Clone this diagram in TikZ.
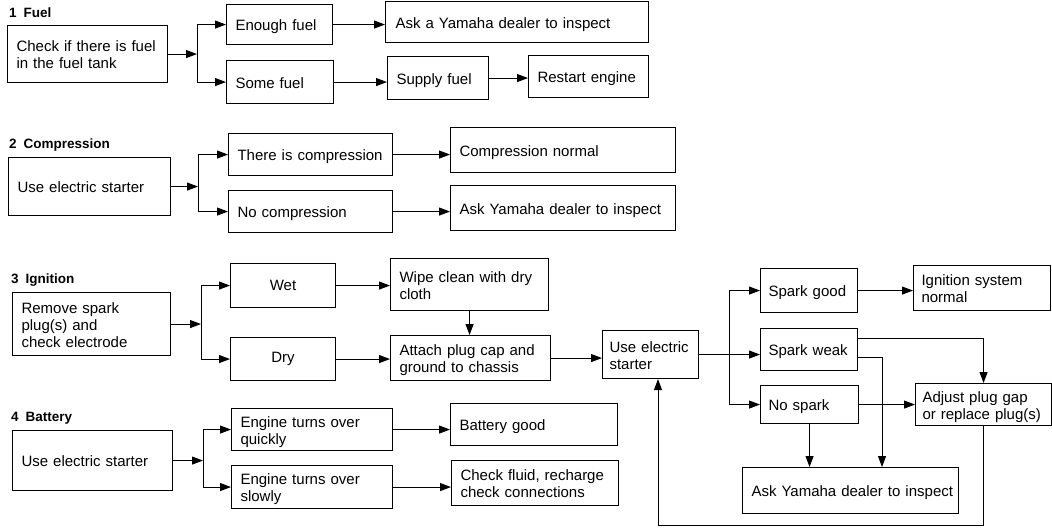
\documentclass[tikz,border=0pt]{standalone}
\usepackage{fontspec}
\setmainfont{Liberation Sans}
\usetikzlibrary{arrows.meta}
\newcommand\tl[1]{\raisebox{-3pt}[\height][\depth]{\begin{tabular}{@{}l@{}}#1\end{tabular}}}
\begin{document}
\begin{tikzpicture}[x=1pt,y=-1pt,
  box/.style={draw, line width=1.1pt, anchor=north west, inner xsep=9pt, inner ysep=0pt,
    align=left, font=\fontsize{15}{17}\selectfont},
  cbox/.style={box, align=center},
  ttl/.style={anchor=west, font=\bfseries\fontsize{13.5}{16}\selectfont, inner sep=0pt},
  arr/.style={line width=1pt, -{Triangle[length=11pt,width=8pt]}},
  ln/.style={line width=1pt}]
\useasboundingbox (0,0) rectangle (1052,530);

% ---------- 1 Fuel
\node[ttl] (t1) at (9,13) {1\hspace{7pt}Fuel};
\node[box, text width=142pt, minimum height=57pt] (f0) at (7,25) {\tl{Check if there is fuel\\in the fuel tank}};
\node[box, text width=88pt, minimum height=40pt] (f1) at (226,4) {\tl{Enough fuel}};
\node[box, text width=89pt, minimum height=43pt] (f2) at (226,60) {\tl{Some fuel}};
\node[box, text width=243pt, minimum height=41pt, inner xsep=10pt] (f3) at (385,1) {\tl{Ask a Yamaha dealer to inspect}};
\node[box, text width=83pt, minimum height=43pt] (f4) at (387,56) {\tl{Supply fuel}};
\node[box, text width=102pt, minimum height=42pt] (f5) at (528,55) {\tl{Restart engine}};
\coordinate (j1) at (197,0);
\draw[arr] (f0.east) -- (f0.east -| j1);
\draw[ln] (f1.west -| j1) -- (f2.west -| j1);
\draw[arr] (f1.west -| j1) -- (f1.west);
\draw[arr] (f2.west -| j1) -- (f2.west);
\draw[arr] (f1.east) -- (f1.east -| f3.west);
\draw[arr] (f2.east) -- (f2.east -| f4.west);
\draw[arr] (f4.east) -- (f4.east -| f5.west);

% ---------- 2 Compression
\node[ttl] (t2) at (9,145) {2\hspace{7pt}Compression};
\node[box, text width=144pt, minimum height=58pt] (c0) at (8,157) {\tl{Use electric starter}};
\node[box, text width=146pt, minimum height=42pt] (c1) at (228,133) {\tl{There is compression}};
\node[box, text width=146pt, minimum height=42pt] (c2) at (228,190) {\tl{No compression}};
\node[box, text width=207pt, minimum height=45pt] (c3) at (450,127) {\tl{Compression normal}};
\node[box, text width=207pt, minimum height=45pt] (c4) at (450,185) {\tl{Ask Yamaha dealer to inspect}};
\coordinate (j2) at (198,0);
\draw[arr] (c0.east) -- (c0.east -| j2);
\draw[ln] (c1.west -| j2) -- (c2.west -| j2);
\draw[arr] (c1.west -| j2) -- (c1.west);
\draw[arr] (c2.west -| j2) -- (c2.west);
\draw[arr] (c1.east) -- (c1.east -| c3.west);
\draw[arr] (c2.east) -- (c2.east -| c4.west);

% ---------- 3 Ignition
\node[ttl] (t3) at (11,280) {3\hspace{7pt}Ignition};
\node[box, text width=140pt, minimum height=63pt] (i0) at (12,292) {\tl{Remove spark\\plug(s) and\\check electrode}};
\node[cbox, text width=87pt, minimum height=44pt] (i1) at (230,263) {Wet};
\node[cbox, text width=87pt, minimum height=43pt] (i2) at (230,337) {Dry};
\node[box, text width=140pt, minimum height=52pt] (i3) at (390,258) {\tl{Wipe clean with dry\\cloth}};
\node[box, text width=142pt, minimum height=45pt] (i4) at (390,335) {\tl{Attach plug cap and\\ground to chassis}};
\node[box, text width=82pt, minimum height=48pt, inner xsep=7pt] (i5) at (602,330) {\tl{Use electric\\starter}};
\coordinate (j3) at (201,0);
\draw[arr] (i0.east) -- (i0.east -| j3);
\draw[ln] (i1.west -| j3) -- (i2.west -| j3);
\draw[arr] (i1.west -| j3) -- (i1.west);
\draw[arr] (i2.west -| j3) -- (i2.west);
\draw[arr] (i1.east) -- (i1.east -| i3.west);
\draw[arr] (i2.east) -- (i2.east -| i4.west);
\draw[arr] (i3.south) -- (i3.south |- i4.north);
\draw[arr] (i4.east) -- (i4.east -| i5.west);

\node[box, text width=81pt, minimum height=44pt, inner xsep=8pt] (s1) at (760,268) {\tl{Spark good}};
\node[box, text width=81pt, minimum height=42pt, inner xsep=8pt] (s2) at (760,328) {\tl{Spark weak}};
\node[box, text width=82pt, minimum height=38pt, inner xsep=8pt] (s3) at (760,385) {\tl{No spark}};
\node[box, text width=121pt, minimum height=45pt, inner xsep=8pt] (s4) at (913,265) {\tl{Ignition system\\normal}};
\node[box, text width=122pt, minimum height=42pt, inner xsep=7pt] (s5) at (915,383) {\tl{Adjust plug gap\\or replace plug(s)}};
\node[box, text width=198pt, minimum height=46pt] (s6) at (742,467) {\tl{Ask Yamaha dealer to inspect}};
\coordinate (j4) at (729,0);
\coordinate (k2) at (882,0);
\coordinate (k3) at (658,525);
\draw[arr] (i5.east) -- (i5.east -| s2.west);
\draw[ln] (s1.west -| j4) -- (s3.west -| j4);
\draw[arr] (s1.west -| j4) -- (s1.west);
\draw[arr] (s3.west -| j4) -- (s3.west);
\draw[arr] (s1.east) -- (s1.east -| s4.west);
\draw[arr] ([yshift=11pt]s2.east) -| (s5.north);
\draw[arr] ([yshift=-8pt]s2.east) -| (k2 |- s6.north);
\draw[arr] (s3.east) -- (s3.east -| s5.west);
\draw[arr] (s3.south) -- (s3.south |- s6.north);
\draw[arr] (s5.south) |- (k3) -- (k3 |- i5.south);

% ---------- 4 Battery
\node[ttl] (t4) at (11,418) {4\hspace{7pt}Battery};
\node[box, text width=142pt, minimum height=60pt] (b0) at (12,430) {\tl{Use electric starter}};
\node[box, text width=143pt, minimum height=42pt] (b1) at (231,408) {\tl{Engine turns over\\quickly}};
\node[box, text width=143pt, minimum height=43pt] (b2) at (231,465) {\tl{Engine turns over\\slowly}};
\node[box, text width=149pt, minimum height=42pt] (b3) at (450,403) {\tl{Battery good}};
\node[box, text width=149pt, minimum height=45pt] (b4) at (451,460) {\tl{Check fluid, recharge\\check connections}};
\coordinate (j5) at (203,0);
\draw[arr] (b0.east) -- (b0.east -| j5);
\draw[ln] (b1.west -| j5) -- (b2.west -| j5);
\draw[arr] (b1.west -| j5) -- (b1.west);
\draw[arr] (b2.west -| j5) -- (b2.west);
\draw[arr] (b1.east) -- (b1.east -| b3.west);
\draw[arr] (b2.east) -- (b2.east -| b4.west);
\end{tikzpicture}
\end{document}
